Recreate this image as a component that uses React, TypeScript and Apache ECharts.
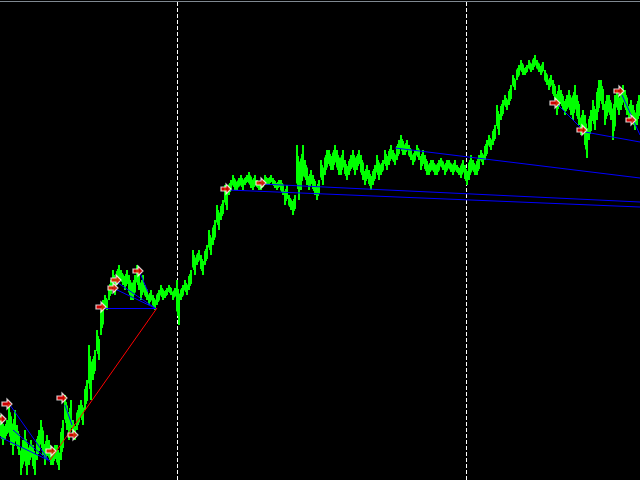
import React, { useEffect, useRef } from "react";
import * as echarts from "echarts";

// Price bars: one bar every 4 time units (high / low levels)
const STEP = 4;
const barHigh = [
  65, 60, 76, 70, 55, 40, 50, 40, 35, 50, 60, 45, 40, 35, 35, 60, 85, 80, 60, 75,
  80, 100, 135, 130, 150, 180, 185, 200, 210, 215, 210, 210, 205, 205, 215, 205, 195, 190, 185, 190,
  195, 192, 195, 192, 200, 195, 200, 210, 230, 230, 225, 235, 250, 260, 275, 280, 295, 300, 305, 302,
  305, 305, 308, 305, 300, 300, 305, 305, 302, 300, 300, 295, 285, 285, 335, 335, 320, 310, 305, 300,
  320, 330, 330, 335, 330, 330, 320, 325, 330, 330, 325, 315, 310, 315, 325, 320, 330, 335, 330, 340,
  345, 340, 335, 330, 335, 330, 325, 320, 320, 320, 322, 320, 320, 320, 315, 320, 315, 325, 320, 325,
  330, 340, 345, 355, 375, 380, 385, 395, 405, 415, 420, 415, 420, 425, 420, 418, 410, 405, 400, 395,
  390, 385, 390, 395, 385, 370, 365, 370, 380, 400, 400, 385, 385, 385, 390, 395, 390, 380, 375, 385,
];
const barLow = [
  35, 40, 35, 25, 25, 5, 5, 15, 5, 20, 25, 15, 15, 15, 10, 20, 50, 40, 40, 50,
  55, 70, 80, 100, 120, 145, 170, 180, 185, 195, 195, 190, 180, 180, 190, 180, 180, 175, 170, 175,
  180, 182, 185, 180, 155, 180, 185, 190, 205, 215, 205, 215, 225, 235, 250, 260, 270, 285, 290, 290,
  290, 295, 292, 290, 290, 290, 295, 295, 292, 290, 285, 275, 270, 265, 280, 290, 295, 290, 285, 280,
  295, 305, 310, 310, 305, 305, 300, 305, 305, 310, 300, 295, 290, 295, 300, 305, 310, 315, 315, 320,
  325, 325, 320, 315, 320, 310, 305, 305, 305, 305, 310, 305, 308, 305, 305, 302, 295, 300, 305, 305,
  315, 320, 330, 335, 345, 360, 370, 375, 390, 400, 405, 405, 408, 410, 408, 405, 395, 390, 380, 365,
  370, 365, 365, 360, 355, 345, 322, 340, 350, 360, 370, 355, 360, 340, 365, 370, 365, 360, 350, 355,
];

// Arrow markers (time, level)
const markerTimes = [1, 7, 51, 62, 73, 101, 113, 116, 138, 226, 261, 555, 582, 619, 631];
const markerLevels = [61, 76, 29, 82, 45, 173, 192, 200, 209, 291, 297, 377, 350, 389, 360];

// Blue trend segments: [t1, level1, t2, level2]
const blueSegments = [
  [10, 75, 50, 18],
  [13, 50, 48, 20],
  [0, 43, 48, 20],
  [65, 75, 72, 55],
  [103, 172, 157, 172],
  [113, 192, 155, 172],
  [118, 197, 155, 172],
  [140, 207, 148, 188],
  [228, 290, 640, 273],
  [261, 296, 640, 278],
  [395, 332, 640, 302],
  [558, 375, 580, 353],
  [585, 348, 640, 338],
  [622, 385, 640, 345],
];
// Red segment
const redSegments = [[50, 20, 157, 172]];

// Period separators
const separators = [177, 466];

const ARROW = "path://M0,3 L5,3 L5,0 L10,5 L5,10 L5,7 L0,7 Z";

export default function App() {
  const ref = useRef<HTMLDivElement>(null);
  useEffect(() => {
    document.body.style.margin = "0";
    document.body.style.background = "#000";
    const chart = echarts.init(ref.current!, undefined, { renderer: "svg" });
    const bars = barHigh.map((h, i) => [i * STEP + STEP / 2, barLow[i], h, i]);
    const segs = (arr: number[][]) => arr.map((s) => ({ coords: [[s[0], s[1]], [s[2], s[3]]] }));
    chart.setOption({
      animation: false,
      backgroundColor: "#000000",
      grid: { left: 0, right: 0, top: 0, bottom: 0 },
      xAxis: { type: "value", min: 0, max: 640, show: false },
      yAxis: { type: "value", min: 0, max: 480, show: false },
      graphic: [
        { type: "rect", shape: { x: 0, y: 1, width: 640, height: 1 }, style: { fill: "#7f8890" }, z: 100 },
      ],
      series: [
        {
          type: "custom",
          renderItem: (params: any, api: any) => {
            const x = api.value(0);
            const lo = api.value(1);
            const hi = api.value(2);
            const idx = api.value(3);
            const p1 = api.coord([x, hi]);
            const p2 = api.coord([x, lo]);
            const top = p1[1];
            const bot = p2[1];
            const span = Math.max(2, bot - top);
            const flip = idx % 2 === 0;
            const aTop = flip ? top : top + span * 0.3;
            const aBot = flip ? bot - span * 0.3 : bot;
            const bTop = flip ? top + span * 0.3 : top;
            const bBot = flip ? bot : bot - span * 0.3;
            return {
              type: "group",
              children: [
                {
                  type: "rect",
                  shape: { x: p1[0] - 2, y: aTop, width: 2, height: Math.max(1, aBot - aTop) },
                  style: { fill: "#00ff00" },
                },
                {
                  type: "rect",
                  shape: { x: p1[0], y: bTop, width: 2, height: Math.max(1, bBot - bTop) },
                  style: { fill: "#00ff00" },
                },
                {
                  type: "rect",
                  shape: { x: p1[0] - 1, y: top + span * 0.2, width: 2, height: Math.max(1, span * 0.6) },
                  style: { fill: "#00ff00" },
                },
              ],
            };
          },
          encode: { x: 0, y: [1, 2] },
          data: bars,
          z: 3,
          markLine: {
            silent: true,
            symbol: ["none", "none"],
            label: { show: false },
            lineStyle: { color: "#ffffff", type: [4, 2], width: 1 },
            data: separators.map((t) => ({ xAxis: t })),
            z: 1,
          },
        },
        {
          type: "lines",
          coordinateSystem: "cartesian2d",
          polyline: false,
          lineStyle: { color: "#0000ff", width: 1, opacity: 1 },
          data: segs(blueSegments),
          z: 4,
        },
        {
          type: "lines",
          coordinateSystem: "cartesian2d",
          lineStyle: { color: "#ff0000", width: 1, opacity: 1 },
          data: segs(redSegments),
          z: 4,
        },
        {
          type: "scatter",
          symbol: ARROW,
          symbolSize: [10, 10],
          itemStyle: { color: "#ff0000", borderColor: "#ffffff", borderWidth: 1.2 },
          data: markerTimes.map((t, i) => [t, markerLevels[i]]),
          z: 5,
        },
      ],
    });
    return () => chart.dispose();
  }, []);
  return <div ref={ref} style={{ width: 640, height: 480 }} />;
}
